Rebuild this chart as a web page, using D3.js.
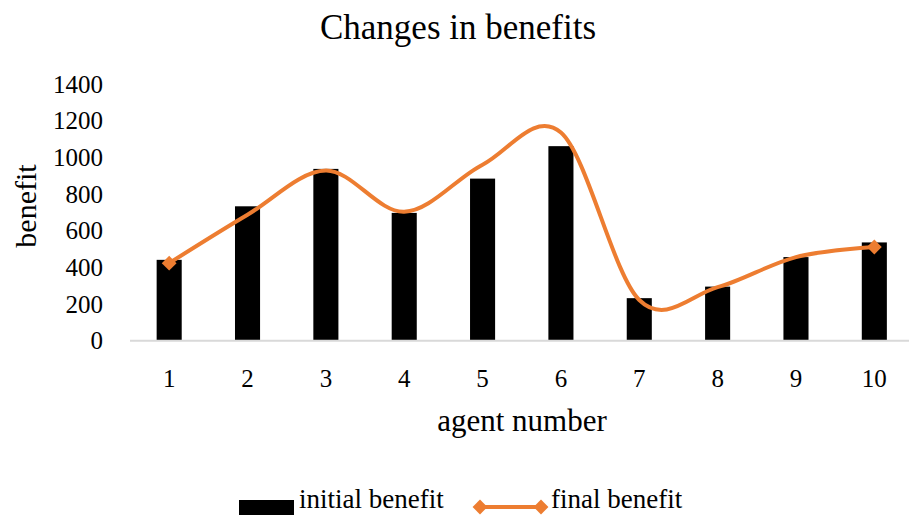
<!DOCTYPE html>
<html>
<head>
<meta charset="utf-8">
<script src="https://cdn.jsdelivr.net/npm/d3@7"></script>
<style>
  html, body { margin: 0; padding: 0; background: #fff; }
  svg text { font-family: "Palatino Linotype", "Book Antiqua", Palatino, "Liberation Serif", serif; fill: #000; }
</style>
</head>
<body>
<svg id="chart" width="909" height="515"></svg>
<script>
// Agents and their benefits before and after
const agents = ["1", "2", "3", "4", "5", "6", "7", "8", "9", "10"];
const initialBenefit = [441, 733, 937, 697, 884, 1061, 232, 295, 456, 536];
const finalBenefit = [423, 687, 928, 703, 960, 1135, 222, 292, 456, 511];
const yTicks = [0, 200, 400, 600, 800, 1000, 1200, 1400];

const svg = d3.select("#chart");
const plot = { left: 130, right: 913.5, top: 84, bottom: 340.7 };

const x = d3.scaleBand().domain(agents).range([plot.left, plot.right]).paddingInner(0.68).paddingOuter(0.34);
const xc = d => x(d) + x.bandwidth() / 2;
const y = d3.scaleLinear().domain([0, 1400]).range([plot.bottom, plot.top]);

// Title
svg.append("text").attr("x", 458).attr("y", 39).attr("text-anchor", "middle")
  .style("font-size", "35px").text("Changes in benefits");

// Y tick labels (no gridlines, no axis line)
const yAxis = d3.axisLeft(y).tickValues(yTicks).tickFormat(d3.format("d")).tickSize(0).tickPadding(0);
const gy = svg.append("g").attr("transform", "translate(103,0)").call(yAxis);
gy.select(".domain").remove();
gy.selectAll("text").style("font-size", "25px").attr("dy", "0.33em");

// Bars
svg.append("g").selectAll("rect").data(agents).join("rect")
  .attr("x", d => x(d))
  .attr("width", x.bandwidth())
  .attr("y", (d, i) => y(initialBenefit[i]))
  .attr("height", (d, i) => y(0) - y(initialBenefit[i]))
  .attr("fill", "#000");

// Category axis
const xAxis = d3.axisBottom(x).tickSize(0).tickPadding(0);
const gx = svg.append("g").attr("transform", `translate(0,${plot.bottom})`).call(xAxis);
gx.select(".domain").attr("stroke", "#d9d9d9").attr("stroke-width", 2).attr("d", `M${plot.left},0H${plot.right}`);
gx.selectAll("text").style("font-size", "25px").attr("y", 46).attr("dy", 0);

// Smoothed final benefit line
const line = d3.line().x((d, i) => xc(agents[i])).y(d => y(d)).curve(d3.curveCatmullRom.alpha(0));
svg.append("path").datum(finalBenefit).attr("d", line)
  .attr("fill", "none").attr("stroke", "#ed7d31").attr("stroke-width", 4);

// End-point markers
const ends = [0, finalBenefit.length - 1];
svg.append("g").selectAll("path").data(ends).join("path")
  .attr("transform", i => `translate(${xc(agents[i])},${y(finalBenefit[i])}) rotate(45)`)
  .attr("d", d3.symbol().type(d3.symbolSquare).size(110))
  .attr("fill", "#ed7d31");

// Axis titles
svg.append("text").attr("x", 522).attr("y", 431).attr("text-anchor", "middle")
  .style("font-size", "31px").text("agent number");
svg.append("text").attr("transform", "translate(36,206) rotate(-90)").attr("text-anchor", "middle")
  .style("font-size", "30px").text("benefit");

// Legend
const lg = svg.append("g");
lg.append("rect").attr("x", 239).attr("y", 500).attr("width", 55).attr("height", 16).attr("fill", "#000");
lg.append("text").attr("x", 299).attr("y", 508).style("font-size", "27px").text("initial benefit");
lg.append("line").attr("x1", 480).attr("x2", 541).attr("y1", 507).attr("y2", 507)
  .attr("stroke", "#ed7d31").attr("stroke-width", 4);
lg.selectAll("path.lm").data([480, 541]).join("path").attr("class", "lm")
  .attr("transform", d => `translate(${d},507) rotate(45)`)
  .attr("d", d3.symbol().type(d3.symbolSquare).size(110))
  .attr("fill", "#ed7d31");
lg.append("text").attr("x", 551).attr("y", 508).style("font-size", "27px").text("final benefit");
</script>
</body>
</html>
